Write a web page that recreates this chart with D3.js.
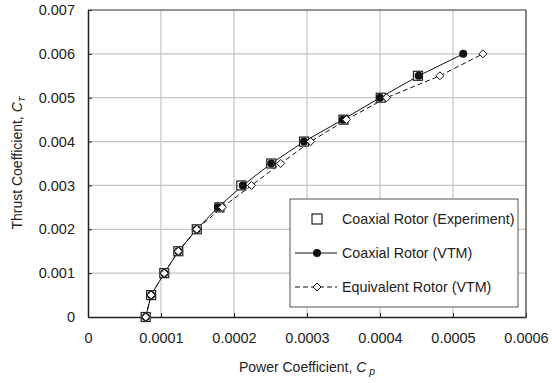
<!DOCTYPE html>
<html><head><meta charset="utf-8">
<script src="https://cdn.jsdelivr.net/npm/d3@7"></script>
<style>body{margin:0;background:#fff}svg{display:block}text{font-family:"Liberation Sans",Arial,sans-serif;fill:#222}</style>
</head><body>
<script>
const ctLevels = [0,0.0005,0.001,0.0015,0.002,0.0025,0.003,0.0035,0.004,0.0045,0.005,0.0055,0.006];
const expCp = [0.000079,0.0000865,0.0001045,0.0001237,0.000149,0.00018,0.000210,0.000251,0.000296,0.00035,0.000401,0.000452];
const vtmCp = [0.000079,0.0000865,0.0001045,0.0001237,0.000149,0.000178,0.000212,0.000251,0.000296,0.000349,0.0004,0.000453,0.000514];
const eqCp  = [0.000079,0.0000865,0.0001045,0.0001237,0.000149,0.000184,0.000224,0.000264,0.000305,0.000354,0.000409,0.000482,0.000541];
const xTicks = [0,0.0001,0.0002,0.0003,0.0004,0.0005,0.0006];
const xTickLabels = ["0","0.0001","0.0002","0.0003","0.0004","0.0005","0.0006"];
const yTicks = [0,0.001,0.002,0.003,0.004,0.005,0.006,0.007];
const yTickLabels = ["0","0.001","0.002","0.003","0.004","0.005","0.006","0.007"];
const legendLabels = ["Coaxial Rotor (Experiment)","Coaxial Rotor (VTM)","Equivalent Rotor (VTM)"];

const W=552,H=383;
const L=88,R=526,T=10,B=317;
const x=d3.scaleLinear().domain([0,0.0006]).range([L,R]);
const y=d3.scaleLinear().domain([0,0.007]).range([B,T]);
const svg=d3.select("body").append("svg").attr("width",W).attr("height",H);

// grid
svg.append("g").selectAll("line").data(xTicks.slice(1,-1)).join("line")
  .attr("x1",d=>x(d)).attr("x2",d=>x(d)).attr("y1",T).attr("y2",B)
  .attr("stroke","#c4c4c4").attr("stroke-width",1.2);
svg.append("g").selectAll("line").data(yTicks.slice(1,-1)).join("line")
  .attr("y1",d=>y(d)).attr("y2",d=>y(d)).attr("x1",L).attr("x2",R)
  .attr("stroke","#c4c4c4").attr("stroke-width",1.2);

// axes
const xa=svg.append("g").attr("transform",`translate(0,${B})`)
  .call(d3.axisBottom(x).tickValues(xTicks).tickFormat((d,i)=>xTickLabels[i]).tickSizeInner(-4).tickSizeOuter(0).tickPadding(16));
const ya=svg.append("g").attr("transform",`translate(${L},0)`)
  .call(d3.axisLeft(y).tickValues(yTicks).tickFormat((d,i)=>yTickLabels[i]).tickSizeInner(-4).tickSizeOuter(0).tickPadding(13));
[xa,ya].forEach(a=>{a.selectAll("text").attr("font-size",14.5).attr("fill","#222");a.select(".domain").attr("stroke","#222").attr("stroke-width",1.5);a.selectAll(".tick line").attr("stroke","#222");});
// top and right border
svg.append("line").attr("x1",L).attr("x2",R).attr("y1",T).attr("y2",T).attr("stroke","#333").attr("stroke-width",1.2);
svg.append("line").attr("x1",R).attr("x2",R).attr("y1",T).attr("y2",B).attr("stroke","#333").attr("stroke-width",1.2);

// lines
const vtmData=vtmCp.map((c,i)=>[c,ctLevels[i]]);
const eqData=eqCp.map((c,i)=>[c,ctLevels[i]]);
const expData=expCp.map((c,i)=>[c,ctLevels[i]]);
const line=d3.line().x(d=>x(d[0])).y(d=>y(d[1]));
svg.append("path").datum(eqData).attr("d",line).attr("fill","none").attr("stroke","#111").attr("stroke-width",1).attr("stroke-dasharray","5,3");
svg.append("path").datum(vtmData).attr("d",line).attr("fill","none").attr("stroke","#111").attr("stroke-width",1);

// markers
const sq=9;
svg.append("g").selectAll("rect").data(expData).join("rect")
  .attr("x",d=>x(d[0])-sq/2).attr("y",d=>y(d[1])-sq/2).attr("width",sq).attr("height",sq)
  .attr("fill","#fff").attr("stroke","#222").attr("stroke-width",1.2);
svg.append("g").selectAll("circle").data(vtmData).join("circle")
  .attr("cx",d=>x(d[0])).attr("cy",d=>y(d[1])).attr("r",4).attr("fill","#111");
const diamond=(cx,cy,s)=>`M${cx},${cy-s}L${cx+s},${cy}L${cx},${cy+s}L${cx-s},${cy}Z`;
svg.append("g").selectAll("path").data(eqData).join("path")
  .attr("d",d=>diamond(x(d[0]),y(d[1]),4)).attr("fill","#fff").attr("stroke","#111").attr("stroke-width",1);

// legend
const lg=svg.append("g");
lg.append("rect").attr("x",290).attr("y",199).attr("width",228).attr("height",108).attr("fill","#fff").attr("stroke","#555").attr("stroke-width",1);
const rows=[219,253,287];
lg.append("rect").attr("x",317-5).attr("y",rows[0]-5).attr("width",10).attr("height",10).attr("fill","#fff").attr("stroke","#222").attr("stroke-width",1.2);
lg.append("line").attr("x1",295).attr("x2",337).attr("y1",rows[1]).attr("y2",rows[1]).attr("stroke","#111");
lg.append("circle").attr("cx",317).attr("cy",rows[1]).attr("r",4).attr("fill","#111");
lg.append("line").attr("x1",295).attr("x2",337).attr("y1",rows[2]).attr("y2",rows[2]).attr("stroke","#111").attr("stroke-dasharray","5,3");
lg.append("path").attr("d",diamond(317,rows[2],4)).attr("fill","#fff").attr("stroke","#111");
legendLabels.forEach((t,i)=>lg.append("text").attr("x",342).attr("y",rows[i]).attr("dy","0.35em").attr("font-size",14.3).text(t));

// axis titles
const xt=svg.append("text").attr("x",307).attr("y",372).attr("text-anchor","middle").attr("font-size",14);
xt.append("tspan").text("Power Coefficient, ");
xt.append("tspan").attr("font-style","italic").text("C");
xt.append("tspan").attr("font-style","italic").attr("font-size",10.5).attr("dy",3).text(" p");
const yt=svg.append("text").attr("transform","translate(22,163) rotate(-90)").attr("text-anchor","middle").attr("font-size",14);
yt.append("tspan").text("Thrust Coefficient, ");
yt.append("tspan").attr("font-style","italic").text("C");
yt.append("tspan").attr("font-style","italic").attr("font-size",9.5).attr("dy",3).text("T");
</script>
</body></html>
